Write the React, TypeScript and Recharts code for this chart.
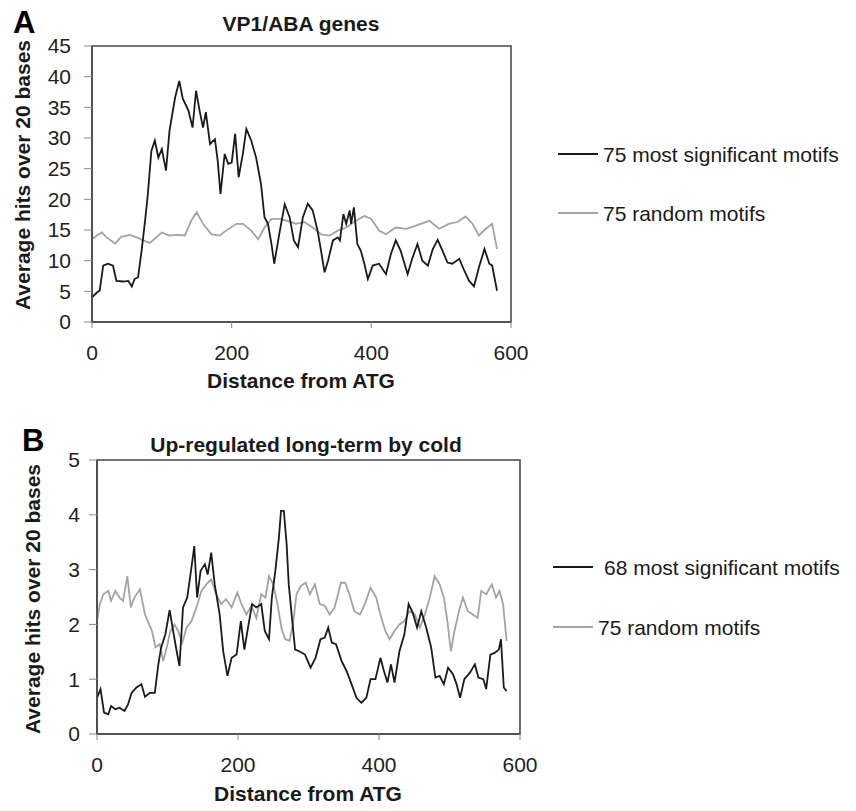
import React from 'react';
import { LineChart, Line, XAxis, YAxis, ReferenceArea } from 'recharts';

const FONT = "'Liberation Sans', Arial, Helvetica, sans-serif";
const BLACK = '#1a1a1a';
const GREY = '#a3a3a3';
const FRAME = '#4a4a4a';

// ---- panel A: VP1/ABA genes ----
const aSigX = [0, 7, 11, 16, 23, 30, 35, 45, 52, 57, 61, 66, 71, 76, 80, 85, 90, 95, 100, 106, 111, 119, 125, 130, 138, 144, 149, 154, 159, 163, 169, 176, 180, 184, 190, 195, 200, 205, 210, 216, 221, 228, 235, 242, 247, 252, 257, 261, 269, 276, 283, 289, 295, 302, 309, 316, 323, 328, 333, 338, 345, 352, 355, 360, 364, 369, 371, 375, 380, 385, 390, 395, 402, 411, 421, 428, 435, 442, 452, 459, 466, 473, 481, 488, 495, 502, 509, 516, 526, 533, 540, 547, 554, 562, 569, 573, 580];
const aSigY = [4.0, 4.8, 5.1, 9.2, 9.5, 9.2, 6.7, 6.6, 6.7, 5.8, 7.0, 7.3, 11.6, 16.5, 20.9, 27.9, 29.6, 26.8, 28.2, 24.7, 31.2, 36.6, 39.3, 36.4, 34.5, 31.7, 37.7, 34.5, 31.7, 34.2, 29.0, 29.8, 26.3, 20.9, 27.4, 25.8, 26.0, 30.7, 23.6, 27.4, 31.5, 29.6, 26.8, 22.5, 17.1, 16.0, 12.7, 9.5, 14.9, 19.2, 17.1, 13.3, 12.2, 17.1, 19.3, 18.2, 14.9, 11.6, 8.1, 10.0, 13.3, 13.8, 13.3, 17.6, 16.0, 18.2, 16.0, 18.7, 12.7, 11.6, 9.5, 7.0, 9.2, 9.5, 7.8, 11.1, 13.3, 11.6, 7.8, 10.5, 12.7, 10.0, 9.2, 11.9, 13.4, 11.6, 9.7, 9.5, 10.3, 8.4, 6.7, 5.8, 8.9, 11.9, 9.5, 9.2, 5.1];

const aRndX = [0, 7, 14, 21, 33, 42, 54, 64, 73, 83, 92, 100, 111, 123, 133, 142, 150, 159, 171, 183, 192, 207, 216, 228, 238, 247, 257, 269, 280, 292, 304, 316, 328, 340, 352, 364, 378, 390, 400, 411, 421, 435, 450, 464, 483, 497, 511, 523, 535, 545, 554, 564, 573, 580];
const aRndY = [13.5, 14.1, 14.6, 13.8, 12.8, 13.9, 14.2, 13.8, 13.3, 12.9, 13.8, 14.6, 14.1, 14.2, 14.1, 16.5, 17.9, 16.0, 14.3, 14.1, 14.9, 16.0, 16.0, 14.9, 13.5, 15.4, 16.8, 16.8, 16.5, 16.0, 16.3, 15.4, 14.3, 14.1, 14.9, 15.4, 16.5, 17.3, 16.8, 14.9, 14.3, 15.4, 15.2, 15.7, 16.5, 15.2, 16.0, 16.3, 17.2, 16.0, 14.1, 15.2, 16.0, 11.9];

// ---- panel B: up-regulated long-term by cold ----
const bSigX = [0, 5, 10, 16, 20, 26, 32, 39, 44, 49, 56, 63, 68, 75, 82, 87, 91, 97, 103, 108, 113, 117, 122, 128, 134, 138, 142, 147, 153, 157, 162, 167, 174, 179, 185, 191, 198, 204, 209, 215, 220, 226, 233, 238, 244, 248, 253, 258, 261, 265, 269, 272, 277, 281, 287, 295, 303, 310, 317, 323, 328, 333, 339, 347, 354, 361, 368, 375, 382, 388, 395, 402, 407, 412, 417, 422, 429, 436, 442, 448, 454, 460, 467, 474, 480, 486, 492, 498, 505, 510, 515, 521, 529, 536, 541, 548, 552, 558, 564, 570, 573, 577, 581];
const bSigY = [0.66, 0.82, 0.39, 0.36, 0.51, 0.45, 0.48, 0.42, 0.54, 0.75, 0.85, 0.91, 0.68, 0.75, 0.75, 1.27, 1.58, 1.82, 2.26, 1.88, 1.51, 1.24, 2.31, 2.49, 3.04, 3.43, 2.49, 2.98, 3.10, 2.91, 3.31, 2.73, 2.18, 1.51, 1.06, 1.39, 1.45, 2.06, 1.54, 2.0, 2.37, 2.31, 2.37, 1.88, 1.73, 2.49, 2.98, 3.58, 4.07, 4.07, 3.46, 2.73, 2.06, 1.54, 1.51, 1.45, 1.21, 1.39, 1.73, 1.76, 1.94, 1.67, 1.64, 1.33, 1.15, 0.91, 0.66, 0.57, 0.66, 1.0, 1.0, 1.39, 1.15, 0.94, 1.27, 0.94, 1.51, 1.82, 2.37, 2.21, 1.94, 2.24, 1.94, 1.58, 1.03, 1.06, 0.91, 1.21, 1.09, 0.91, 0.66, 1.0, 1.12, 1.27, 1.03, 1.0, 0.82, 1.45, 1.48, 1.54, 1.73, 0.85, 0.78];

const bRndX = [0, 4, 9, 16, 20, 26, 32, 37, 43, 48, 53, 61, 68, 72, 78, 83, 89, 94, 100, 104, 110, 115, 121, 127, 134, 141, 148, 155, 162, 169, 176, 183, 191, 199, 205, 212, 219, 226, 233, 239, 244, 250, 256, 262, 267, 273, 278, 283, 289, 296, 302, 309, 316, 323, 330, 337, 346, 352, 358, 365, 373, 380, 388, 396, 402, 409, 415, 422, 429, 436, 443, 451, 458, 465, 472, 479, 486, 492, 497, 502, 507, 514, 519, 526, 533, 540, 545, 552, 560, 566, 571, 576, 581];
const bRndY = [2.06, 2.37, 2.55, 2.61, 2.43, 2.61, 2.49, 2.43, 2.88, 2.31, 2.49, 2.64, 2.18, 2.06, 1.88, 1.58, 1.64, 1.33, 1.64, 1.88, 2.0, 1.88, 1.67, 1.94, 2.06, 2.31, 2.61, 2.73, 2.82, 2.55, 2.37, 2.46, 2.31, 2.58, 2.37, 2.18, 2.34, 2.12, 2.55, 2.49, 2.88, 2.73, 2.37, 1.91, 1.73, 1.70, 2.0, 2.55, 2.70, 2.76, 2.55, 2.73, 2.37, 2.34, 2.18, 2.31, 2.76, 2.76, 2.55, 2.24, 2.18, 2.37, 2.67, 2.49, 2.18, 1.88, 1.73, 1.88, 2.0, 2.06, 2.24, 2.18, 1.94, 2.18, 2.49, 2.88, 2.73, 2.49, 2.06, 1.51, 1.88, 2.27, 2.49, 2.24, 2.18, 2.12, 2.61, 2.55, 2.73, 2.49, 2.61, 2.37, 1.70];

const xTicks = [0, 200, 400, 600];
const aYTicks = [0, 5, 10, 15, 20, 25, 30, 35, 40, 45];
const bYTicks = [0, 1, 2, 3, 4, 5];

const toPoints = (xs: number[], ys: number[]) => xs.map((x, i) => ({ x, y: ys[i] }));

interface PanelProps {
  top: number;
  width: number;
  height: number;
  margin: { top: number; right: number; bottom: number; left: number };
  yTicks: number[];
  yMax: number;
  sig: { x: number; y: number }[];
  rnd: { x: number; y: number }[];
  yTickGap: number;
}

function Panel({ top, width, height, margin, yTicks, yMax, sig, rnd, yTickGap }: PanelProps) {
  const tickStyle = { fill: '#222', fontSize: 21, fontFamily: FONT };
  return (
    <div style={{ position: 'absolute', left: 0, top }}>
      <LineChart width={width} height={height} margin={margin}>
        <XAxis
          dataKey="x"
          type="number"
          domain={[0, 600]}
          ticks={xTicks}
          height={30}
          tick={tickStyle}
          tickSize={6}
          tickMargin={17}
          tickLine={{ stroke: '#888' }}
          axisLine={{ stroke: FRAME, strokeWidth: 1.6 }}
        />
        <YAxis
          type="number"
          domain={[0, yMax]}
          ticks={yTicks}
          width={60}
          tick={tickStyle}
          tickSize={8}
          tickMargin={yTickGap}
          tickLine={{ stroke: '#888' }}
          axisLine={{ stroke: FRAME, strokeWidth: 1.6 }}
          interval={0}
        />
        <ReferenceArea x1={0} x2={600} y1={0} y2={yMax} fill="none" stroke={FRAME} strokeWidth={1.6} />
        <Line data={rnd} dataKey="y" stroke={GREY} strokeWidth={1.8} dot={false} isAnimationActive={false} />
        <Line data={sig} dataKey="y" stroke={BLACK} strokeWidth={1.8} dot={false} isAnimationActive={false} />
      </LineChart>
    </div>
  );
}

const centered = (x: number, y: number, extra: React.CSSProperties = {}): React.CSSProperties => ({
  position: 'absolute',
  left: x,
  top: y,
  transform: 'translate(-50%, -50%)',
  whiteSpace: 'nowrap',
  fontFamily: FONT,
  fontSize: 21,
  lineHeight: 1,
  color: '#1a1a1a',
  ...extra,
});

function LegendRow({ x, y, textX, color, label }: { x: number; y: number; textX: number; color: string; label: string }) {
  return (
    <>
      <div style={{ position: 'absolute', left: x, top: y - 1, width: 40, height: 0, borderTop: `2px solid ${color}` }} />
      <div style={{ ...centered(textX, y), transform: 'translate(0, -50%)' }}>{label}</div>
    </>
  );
}

export default function App() {
  const aSig = toPoints(aSigX, aSigY);
  const aRnd = toPoints(aRndX, aRndY);
  const bSig = toPoints(bSigX, bSigY);
  const bRnd = toPoints(bRndX, bRndY);

  return (
    <div style={{ position: 'absolute', left: 0, top: 0, width: 856, height: 811, background: '#fff', overflow: 'hidden' }}>
      {/* panel A: plot area x 92-511, y 46-322 */}
      <Panel
        top={0}
        width={540}
        height={400}
        margin={{ top: 46, right: 29, left: 32, bottom: 48 }}
        yTicks={aYTicks}
        yMax={45}
        sig={aSig}
        rnd={aRnd}
        yTickGap={13}
      />
      <div style={{ ...centered(13, 22, { fontSize: 31, fontWeight: 700, color: '#000' }), transform: 'translate(0, -50%)' }}>A</div>
      <div style={centered(301, 23, { fontWeight: 700 })}>VP1/ABA genes</div>
      <div style={centered(22, 175, { fontWeight: 700, transform: 'translate(-50%, -50%) rotate(-90deg)' })}>Average hits over 20 bases</div>
      <div style={centered(301, 380, { fontWeight: 700 })}>Distance from ATG</div>
      <LegendRow x={558} y={154} textX={603} color={BLACK} label="75 most significant motifs" />
      <LegendRow x={558} y={213} textX={603} color={GREY} label="75 random motifs" />

      {/* panel B: plot area x 97-520, y 460-734 */}
      <Panel
        top={400}
        width={560}
        height={411}
        margin={{ top: 60, right: 40, left: 37, bottom: 47 }}
        yTicks={bYTicks}
        yMax={5}
        sig={bSig}
        rnd={bRnd}
        yTickGap={9}
      />
      <div style={{ ...centered(22, 440, { fontSize: 31, fontWeight: 700, color: '#000' }), transform: 'translate(0, -50%)' }}>B</div>
      <div style={centered(306, 444, { fontWeight: 700 })}>Up-regulated long-term by cold</div>
      <div style={centered(32, 599, { fontWeight: 700, transform: 'translate(-50%, -50%) rotate(-90deg)' })}>Average hits over 20 bases</div>
      <div style={centered(308, 793, { fontWeight: 700 })}>Distance from ATG</div>
      <LegendRow x={553} y={567} textX={604} color={BLACK} label="68 most significant motifs" />
      <LegendRow x={553} y={627} textX={598} color={GREY} label="75 random motifs" />
    </div>
  );
}
